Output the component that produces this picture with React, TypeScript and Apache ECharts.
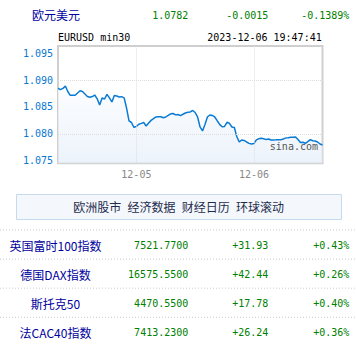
import React, { useEffect, useRef } from "react";
import * as echarts from "echarts";

const pairName = "欧元美元";
const quoteTexts = ["1.0782", "-0.0015", "-0.1389%"];
const chartTitle = "EURUSD min30";
const chartTime = "2023-12-06 19:47:41";
const watermark = "sina.com";
const yTicks = [1.075, 1.08, 1.085, 1.09, 1.095];
const yGridValues = [1.08, 1.085, 1.09];
const xTickLabels = ["12-05", "12-06"];

const prices = [
  1.08846, 1.08822, 1.08844, 1.08889, 1.08787, 1.08717, 1.08717, 1.08717, 1.08759, 1.088,
  1.08787, 1.08741, 1.08694, 1.0868, 1.08693, 1.08722, 1.08652, 1.08537, 1.08667, 1.08648,
  1.08735, 1.0867, 1.08593, 1.08713, 1.08704, 1.08685, 1.08691, 1.0867, 1.08481, 1.08241,
  1.08213, 1.08124, 1.08139, 1.08181, 1.08196, 1.08213, 1.08148, 1.08204, 1.08252, 1.08285,
  1.08315, 1.0832, 1.08319, 1.08302, 1.08315, 1.08343, 1.08374, 1.0838, 1.08354, 1.08361,
  1.08341, 1.08365, 1.08389, 1.08402, 1.08409, 1.08435, 1.08398, 1.08315, 1.0813, 1.08056,
  1.08176, 1.08315, 1.08352, 1.08343, 1.08315, 1.08246, 1.08178, 1.08133, 1.08139, 1.08217,
  1.08198, 1.0813, 1.0812, 1.07954, 1.07852, 1.07889, 1.07881, 1.07852, 1.07826, 1.07815,
  1.07822, 1.07891, 1.07913, 1.0792, 1.07911, 1.07896, 1.07907, 1.07889, 1.07889, 1.07891,
  1.07894, 1.07894, 1.07906, 1.07928, 1.07931, 1.07939, 1.07939, 1.07944, 1.07898, 1.07841,
  1.07848, 1.07828, 1.07859, 1.07896, 1.07874, 1.07869, 1.07852, 1.07815, 1.07796,
];

const navItems = ["欧洲股市", "经济数据", "财经日历", "环球滚动"];
const indexNames = ["英国富时100指数", "德国DAX指数", "斯托克50", "法CAC40指数"];
const indexValues = ["7521.7700", "16575.5500", "4470.5500", "7413.2300"];
const indexChanges = ["+31.93", "+42.44", "+17.78", "+26.24"];
const indexPcts = ["+0.43%", "+0.26%", "+0.40%", "+0.36%"];

const pad = (n: number) => (n < 10 ? "0" + n : "" + n);
const categories: string[] = [];
const startTime = Date.UTC(2023, 11, 4, 8, 0);
for (let i = 0; i < prices.length; i++) {
  const d = new Date(startTime + i * 30 * 60000);
  categories.push(
    `${pad(d.getUTCMonth() + 1)}-${pad(d.getUTCDate())} ${pad(d.getUTCHours())}:${pad(d.getUTCMinutes())}`
  );
}
const isDayStart = (c: string) => c.endsWith("00:00") && xTickLabels.includes(c.slice(0, 5));

const MONO = "DejaVu Sans Mono";
const CJK = "Noto Sans CJK SC";
const BLUE_NAME = "#0000a0";
const GREEN = "#008000";

export default function App() {
  const ref = useRef<HTMLDivElement>(null);
  useEffect(() => {
    document.body.style.margin = "0";
    const chart = echarts.init(ref.current!, undefined, { renderer: "svg" });
    const graphics: any[] = [];
    graphics.push({
      type: "text", left: 32, top: 8,
      style: { text: pairName, font: `12px "${CJK}"`, fill: BLUE_NAME },
    });
    const quoteRights = [188.3, 268.3, 349.3];
    quoteTexts.forEach((t, i) => {
      graphics.push({
        type: "text", x: quoteRights[i], y: 15.5,
        style: { text: t, font: `10px "${MONO}"`, fill: GREEN, align: "right", verticalAlign: "middle" },
      });
    });
    graphics.push({
      type: "text", x: 58, y: 37.5,
      style: { text: chartTitle, font: `10px "${MONO}"`, fill: "#000", align: "left", verticalAlign: "middle" },
    });
    graphics.push({
      type: "text", x: 321.7, y: 37.5,
      style: { text: chartTime, font: `10px "${MONO}"`, fill: "#000", align: "right", verticalAlign: "middle" },
    });
    graphics.push({
      type: "text", x: 318, y: 146, z: 10,
      style: { text: watermark, font: `10px "${MONO}"`, fill: "#555", align: "right", verticalAlign: "middle" },
    });
    graphics.push({
      type: "rect", shape: { x: 16.5, y: 194.5, width: 325, height: 25 },
      style: { fill: "#f4f8fd", stroke: "#c6daee", lineWidth: 1 },
    });
    navItems.forEach((t, i) => {
      graphics.push({
        type: "text", x: 97.3 + i * 54.2, y: 206.7,
        style: { text: t, font: `12px "${CJK}"`, fill: "#1f2c4c", align: "center", verticalAlign: "middle" },
      });
    });
    indexNames.forEach((name, i) => {
      const top = 230 + i * 29.1;
      graphics.push({
        type: "line", shape: { x1: 0, y1: top, x2: 356, y2: top },
        style: { stroke: "#cccccc", lineWidth: 1, lineDash: [1, 2] },
      });
      const cy = top + 15.6;
      graphics.push({
        type: "text", x: 55.5, y: cy,
        style: { text: name, font: `12px "${CJK}"`, fill: BLUE_NAME, align: "center", verticalAlign: "middle" },
      });
      [indexValues[i], indexChanges[i], indexPcts[i]].forEach((t, k) => {
        graphics.push({
          type: "text", x: quoteRights[k], y: cy,
          style: { text: t, font: `10px "${MONO}"`, fill: GREEN, align: "right", verticalAlign: "middle" },
        });
      });
    });

    const dayIdx = categories.map((c, i) => (isDayStart(c) ? i : -1)).filter((i) => i >= 0);

    chart.setOption({
      animation: false,
      backgroundColor: "#ffffff",
      grid: {
        left: 58, top: 46, width: 264.5, height: 117.3,
        show: true, borderColor: "#cfcfcf", borderWidth: 2, backgroundColor: "transparent",
      },
      xAxis: {
        type: "category",
        boundaryGap: false,
        data: categories,
        axisLine: { show: false },
        axisTick: { show: false },
        splitLine: { show: false },
        axisLabel: {
          interval: (idx: number, v: string) => isDayStart(v),
          formatter: (v: string) => v.slice(0, 5),
          color: "#888",
          fontFamily: MONO,
          fontSize: 10,
          margin: 6,
        },
      },
      yAxis: {
        type: "value",
        min: 1.07457,
        max: 1.0963,
        axisLine: { show: false },
        axisTick: { show: false, customValues: yTicks },
        splitLine: { show: false },
        axisLabel: {
          customValues: yTicks,
          formatter: (v: number) => v.toFixed(3),
          color: "#0a78d2",
          fontFamily: MONO,
          fontSize: 10,
          margin: 5,
          padding: [0, 0, 7, 0],
        },
      },
      series: [
        {
          type: "line",
          data: prices,
          symbol: "none",
          lineStyle: { color: "#0a7bd5", width: 1.5 },
          areaStyle: {
            origin: "start",
            color: new echarts.graphic.LinearGradient(0, 0, 0, 1, [
              { offset: 0, color: "#fbfdff" },
              { offset: 1, color: "#e5eef9" },
            ]),
          },
          markLine: {
            silent: true,
            symbol: "none",
            label: { show: false },
            lineStyle: { color: "#dcdcdc", type: "dotted", width: 1 },
            data: [
              ...yGridValues.map((v) => ({ yAxis: v })),
              ...dayIdx.map((i) => ({ xAxis: i })),
            ],
          },
        },
      ],
      graphic: graphics,
    });
    return () => chart.dispose();
  }, []);
  return <div ref={ref} style={{ width: 356, height: 361 }} />;
}
